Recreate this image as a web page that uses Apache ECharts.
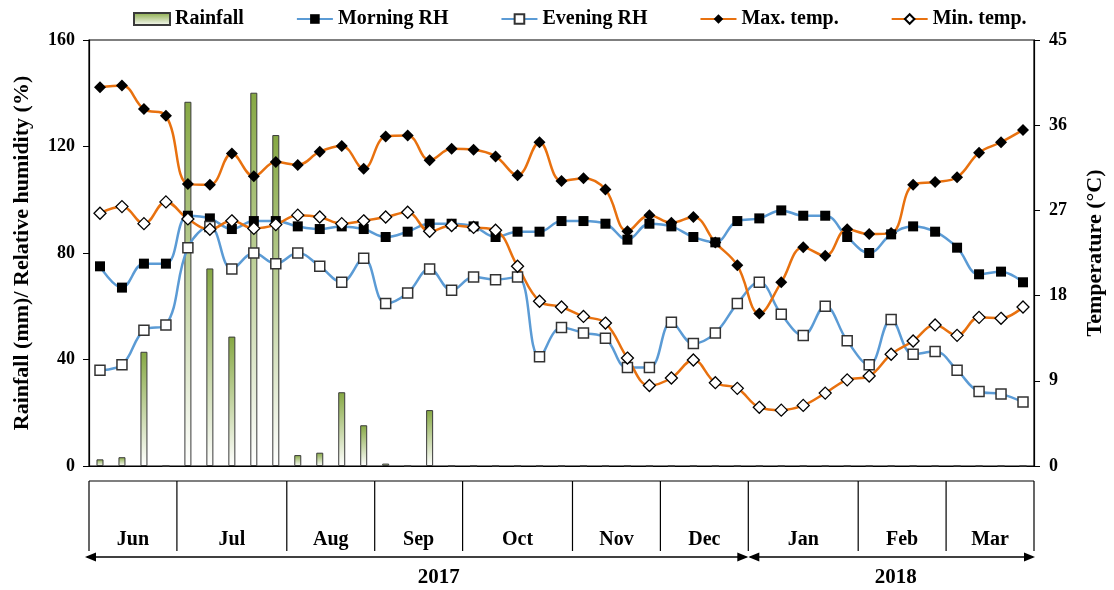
<!DOCTYPE html>
<html><head><meta charset="utf-8">
<script src="https://cdn.jsdelivr.net/npm/echarts@6/dist/echarts.min.js"></script>
<style>html,body{margin:0;padding:0;background:#fff}#c{width:1114px;height:590px}</style>
</head><body><div id="c"></div>
<script>
// ---------------- data ----------------
const months = ['Jun','Jul','Aug','Sep','Oct','Nov','Dec','Jan','Feb','Mar'];
const weeksPerMonth = [4,5,4,4,5,4,4,5,4,4];
const years = ['2017','2018'];
const monthsPerYear = [7,3];

const rainfall = [2.5,3.3,42.9,0,136.8,74.2,48.6,140.2,124.3,4.1,5.0,27.7,15.3,0.9,0,21.0,
  0,0,0,0,0,0,0,0,0,0,0,0,0,0,0,0,0,0,0,0,0,0,0,0,0,0,0];
const morningRH = [75,67,76,76,94,93,89,92,92,90,89,90,89,86,88,91,91,90,86,88,88,92,92,91,85,91,90,86,84,92,93,96,94,94,86,80,87,90,88,82,72,73,69];
const eveningRH = [36,38,51,53,82,90,74,80,76,80,75,69,78,61,65,74,66,71,70,71,41,52,50,48,37,37,54,46,50,61,69,57,49,60,47,38,55,42,43,36,28,27,24];
const maxTemp = [40.0,40.2,37.7,37.0,29.8,29.7,33.0,30.6,32.1,31.8,33.2,33.8,31.4,34.8,34.9,32.3,33.5,33.4,32.7,30.7,34.2,30.1,30.4,29.2,24.8,26.5,25.7,26.3,23.6,21.2,16.1,19.4,23.1,22.2,25.0,24.5,24.6,29.7,30.0,30.5,33.1,34.2,35.5];
const minTemp = [26.7,27.4,25.6,27.9,26.1,25.0,25.9,25.1,25.5,26.5,26.3,25.6,25.9,26.3,26.8,24.8,25.4,25.2,24.9,21.1,17.4,16.8,15.8,15.1,11.4,8.5,9.3,11.2,8.8,8.2,6.2,5.9,6.4,7.7,9.1,9.5,11.8,13.2,14.9,13.8,15.7,15.6,16.8];

const leftAxisMax = 160, leftAxisStep = 40;
const rightAxisMax = 45, rightAxisStep = 9;

// ---------------- derived ----------------
const weeks = [];
const monthSpans = [];
let idx = 0;
months.forEach((m, i) => {
  const start = idx;
  for (let k = 1; k <= weeksPerMonth[i]; k++) { weeks.push(m + ' W' + k); idx++; }
  monthSpans.push([start, idx - 1, 0]);
});
const yearSpans = [];
let mi = 0;
years.forEach((y, i) => {
  const s = monthSpans[mi][0];
  mi += monthsPerYear[i];
  yearSpans.push([s, monthSpans[mi - 1][1], 0]);
});

// ---------------- style ----------------
const FONT = '"Liberation Serif", "Times New Roman", serif';
const BOX_OFFSET = 15, BOX_HEIGHT = 70, MONTH_LABEL_DY = 59;
const ARROW_DY = 91, YEAR_LABEL_DY = 21, YEAR_LABEL_DX = [22, 4];
const ORANGE = '#E8710F', BLUE = '#5B9BD5';

function monthItem(params, api) {
  const s = api.value(0), e = api.value(1);
  const bw = api.size([1, 0])[0];
  const x0 = api.coord([s, 0])[0] - bw / 2;
  const x1 = api.coord([e, 0])[0] + bw / 2;
  const base = api.coord([s, 0])[1];
  const top = base + BOX_OFFSET, bottom = top + BOX_HEIGHT;
  const st = {stroke: '#000', lineWidth: 1.2};
  const children = [
    {type: 'line', shape: {x1: x0, y1: top, x2: x1, y2: top}, style: st},
    {type: 'line', shape: {x1: x0, y1: top, x2: x0, y2: bottom}, style: st},
    {type: 'text', style: {text: months[params.dataIndex], x: (x0 + x1) / 2, y: top + MONTH_LABEL_DY,
      align: 'center', verticalAlign: 'middle', font: 'bold 20px ' + FONT, fill: '#000'}}
  ];
  if (params.dataIndex === months.length - 1) {
    children.push({type: 'line', shape: {x1: x1, y1: top, x2: x1, y2: bottom}, style: st});
  }
  return {type: 'group', children};
}

function yearItem(params, api) {
  const s = api.value(0), e = api.value(1);
  const bw = api.size([1, 0])[0];
  const first = params.dataIndex === 0;
  const x0 = api.coord([s, 0])[0] - bw / 2 - (first ? 4 : 0);
  const x1 = api.coord([e, 0])[0] + bw / 2 + (first ? 0 : 1);
  const y = api.coord([s, 0])[1] + ARROW_DY;
  const L = 11, H = 4.5;
  return {type: 'group', children: [
    {type: 'line', shape: {x1: x0 + 2, y1: y, x2: x1 - 2, y2: y}, style: {stroke: '#000', lineWidth: 1.3}},
    {type: 'polygon', shape: {points: [[x0, y], [x0 + L, y - H], [x0 + L, y + H]]}, style: {fill: '#000'}},
    {type: 'polygon', shape: {points: [[x1, y], [x1 - L, y - H], [x1 - L, y + H]]}, style: {fill: '#000'}},
    {type: 'text', style: {text: years[params.dataIndex], x: (x0 + x1) / 2 + YEAR_LABEL_DX[params.dataIndex],
      y: y + YEAR_LABEL_DY, align: 'center', verticalAlign: 'middle', font: 'bold 21px ' + FONT, fill: '#000'}}
  ]};
}

const axisText = {color: '#000', fontFamily: FONT, fontWeight: 'bold', fontSize: 18};

const chart = echarts.init(document.getElementById('c'), null, {renderer: 'canvas'});
chart.setOption({
  animation: false,
  backgroundColor: '#fff',
  legend: {
    top: 9, left: 133, itemWidth: 36, itemHeight: 12, itemGap: 52, padding: 0,
    textStyle: {color: '#000', fontFamily: FONT, fontWeight: 'bold', fontSize: 20},
    data: [{name: 'Rainfall', icon: 'rect'}, 'Morning RH', 'Evening RH', 'Max. temp.', 'Min. temp.']
  },
  grid: {left: 89, right: 78, top: 40, bottom: 124, show: true, borderColor: '#000', borderWidth: 1.2},
  xAxis: {
    type: 'category', data: weeks, boundaryGap: true,
    axisLine: {lineStyle: {color: '#000', width: 1.2}},
    axisTick: {show: false}, axisLabel: {show: false}, splitLine: {show: false}
  },
  yAxis: [{
    type: 'value', position: 'left', min: 0, max: leftAxisMax, interval: leftAxisStep,
    name: 'Rainfall (mm)/ Relative humidity (%)', nameLocation: 'middle', nameRotate: 90, nameGap: 56,
    nameTextStyle: {color: '#000', fontFamily: FONT, fontWeight: 'bold', fontSize: 22},
    axisLine: {show: true, lineStyle: {color: '#000', width: 1.2}},
    axisTick: {show: true, length: 6, lineStyle: {color: '#000'}},
    axisLabel: Object.assign({margin: 14}, axisText), splitLine: {show: false}
  }, {
    type: 'value', position: 'right', min: 0, max: rightAxisMax, interval: rightAxisStep,
    name: 'Temperature (°C)', nameLocation: 'middle', nameRotate: 90, nameGap: 50,
    nameTextStyle: {color: '#000', fontFamily: FONT, fontWeight: 'bold', fontSize: 22},
    axisLine: {show: true, lineStyle: {color: '#000', width: 1.2}},
    axisTick: {show: true, length: 6, lineStyle: {color: '#000'}},
    axisLabel: Object.assign({margin: 15}, axisText), splitLine: {show: false}
  }],
  series: [{
    name: 'Rainfall', type: 'bar', data: rainfall, barWidth: 7, yAxisIndex: 0,
    itemStyle: {
      color: new echarts.graphic.LinearGradient(0, 0, 0, 1, [{offset: 0, color: '#86A843'}, {offset: 1, color: '#FFFFFF'}]),
      borderColor: '#3A3A3A', borderWidth: 1
    }
  }, {
    name: 'Morning RH', type: 'line', data: morningRH, yAxisIndex: 0, smooth: 0.4,
    symbol: 'rect', symbolSize: 10, showAllSymbol: true,
    lineStyle: {color: BLUE, width: 2.5}, itemStyle: {color: '#000'}
  }, {
    name: 'Evening RH', type: 'line', data: eveningRH, yAxisIndex: 0, smooth: 0.4,
    symbol: 'rect', symbolSize: 10, showAllSymbol: true,
    lineStyle: {color: BLUE, width: 2.5}, itemStyle: {color: '#fff', borderColor: '#333', borderWidth: 1.5}
  }, {
    name: 'Max. temp.', type: 'line', data: maxTemp, yAxisIndex: 1, smooth: 0.4,
    symbol: 'diamond', symbolSize: 12, showAllSymbol: true,
    lineStyle: {color: ORANGE, width: 2.5}, itemStyle: {color: '#000'}
  }, {
    name: 'Min. temp.', type: 'line', data: minTemp, yAxisIndex: 1, smooth: 0.4,
    symbol: 'diamond', symbolSize: 12, showAllSymbol: true,
    lineStyle: {color: ORANGE, width: 2.5}, itemStyle: {color: '#fff', borderColor: '#000', borderWidth: 1.3}
  }, {
    name: 'months', type: 'custom', data: monthSpans, renderItem: monthItem, clip: false, silent: true,
    encode: {x: [0, 1], y: 2}, yAxisIndex: 0, z: 1
  }, {
    name: 'years', type: 'custom', data: yearSpans, renderItem: yearItem, clip: false, silent: true,
    encode: {x: [0, 1], y: 2}, yAxisIndex: 0, z: 1
  }]
});
</script></body></html>
